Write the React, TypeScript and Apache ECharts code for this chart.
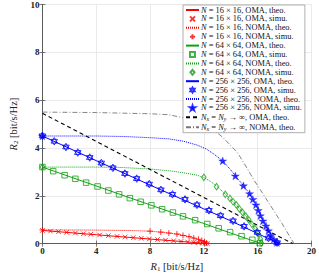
import React, { useEffect, useRef } from "react";
import * as echarts from "echarts";

// ---- tick values ----
const xTickMin = 0;
const xTickMax = 20;
const xTickStep = 4;
const yTickMin = 0;
const yTickMax = 10;
const yTickStep = 2;

// ---- series names ----
const seriesNames = [
  "N = 16 × 16, OMA, theo.",
  "N = 16 × 16, OMA, simu.",
  "N = 16 × 16, NOMA, theo.",
  "N = 16 × 16, NOMA, simu.",
  "N = 64 × 64, OMA, theo.",
  "N = 64 × 64, OMA, simu.",
  "N = 64 × 64, NOMA, theo.",
  "N = 64 × 64, NOMA, simu.",
  "N = 256 × 256, OMA, theo.",
  "N = 256 × 256, OMA, simu.",
  "N = 256 × 256, NOMA, theo.",
  "N = 256 × 256, NOMA, simu.",
  "Nx = Ny → ∞, OMA, theo.",
  "Nx = Ny → ∞, NOMA, theo.",
];

// ---- data: [R1, R2] ----
const red16OmaTheo = [[0, 0.55], [4, 0.37], [8, 0.19], [12.35, 0]];
const red16OmaSimu = [
  [0, 0.55], [0.6, 0.523], [1.2, 0.497], [1.8, 0.47], [2.45, 0.441], [3.05, 0.414],
  [3.6, 0.39], [4.25, 0.361], [4.9, 0.332], [5.55, 0.303], [6.15, 0.276], [6.75, 0.249],
  [7.35, 0.223], [7.95, 0.196], [8.55, 0.169], [9.15, 0.143], [9.75, 0.116], [10.3, 0.091],
  [10.8, 0.069], [11.25, 0.049], [11.6, 0.033], [11.9, 0.02], [12.1, 0.011], [12.25, 0.004],
];
const red16NomaTheo = [
  [0, 0.57], [2, 0.57], [4, 0.565], [6, 0.55], [7, 0.54], [8, 0.52], [9, 0.47],
  [10, 0.4], [10.9, 0.29], [11.6, 0.18], [12.0, 0.09], [12.25, 0],
];
const red16NomaSimu = [
  [0, 0.57], [8.0, 0.52], [8.8, 0.48], [9.4, 0.44], [10.0, 0.4], [10.45, 0.34],
  [10.9, 0.29], [11.25, 0.23], [11.6, 0.18], [11.85, 0.13], [12.05, 0.08], [12.2, 0.02],
];

const green64OmaTheo = [[0, 3.2], [4, 2.41], [8, 1.62], [12, 0.84], [14, 0.44], [16.25, 0]];
const green64OmaSimu = [
  [0, 3.2], [0.8, 3.03], [1.65, 2.86], [2.45, 2.71], [3.25, 2.55], [4.1, 2.39], [4.9, 2.22],
  [5.7, 2.06], [6.5, 1.9], [7.3, 1.75], [8.1, 1.6], [8.9, 1.44], [9.7, 1.3], [10.45, 1.14],
  [11.35, 0.98], [12.25, 0.82], [13.1, 0.64], [13.95, 0.48], [14.8, 0.31], [15.6, 0.16], [16.15, 0.02],
];
const green64NomaTheo = [
  [0, 3.2], [4, 3.2], [6, 3.18], [8, 3.12], [9.5, 3.04], [10.5, 2.96], [11.5, 2.86],
  [12, 2.76], [12.5, 2.6], [13, 2.38], [13.5, 2.12], [14, 1.84], [14.5, 1.55],
  [15, 1.25], [15.5, 0.88], [16, 0.42], [16.3, 0],
];
const green64NomaSimu = [
  [0, 3.2], [12.0, 2.77], [12.94, 2.38], [13.59, 2.06], [13.94, 1.89], [14.17, 1.75],
  [14.41, 1.62], [14.64, 1.45], [14.87, 1.31], [15.11, 1.15], [15.34, 0.99], [15.57, 0.81],
  [15.8, 0.63], [16.03, 0.42], [16.2, 0.2], [16.27, 0.02],
];

const blue256OmaTheo = [[0, 4.5], [4, 3.47], [8, 2.45], [12, 1.45], [14, 0.95], [16, 0.42], [17.6, 0]];
const blue256OmaSimu = [
  [0, 4.51], [0.88, 4.28], [1.75, 4.04], [2.63, 3.81], [3.52, 3.6], [4.38, 3.37], [5.24, 3.17],
  [6.13, 2.93], [7.01, 2.72], [7.94, 2.49], [8.81, 2.25], [9.67, 2.06], [10.6, 1.85],
  [11.49, 1.62], [12.38, 1.39], [13.24, 1.17], [14.17, 0.95], [14.99, 0.72], [15.97, 0.47],
  [16.8, 0.23], [17.44, 0.04],
];
const blue256NomaTheo = [
  [0, 4.5], [4, 4.5], [6, 4.48], [8, 4.43], [9.4, 4.38], [10.5, 4.28], [11.5, 4.12],
  [12.2, 3.95], [12.8, 3.72], [13.4, 3.46], [14.0, 3.08], [14.4, 2.8], [14.94, 2.42],
  [15.4, 2.09], [16.0, 1.45], [16.4, 0.95], [16.8, 0.54], [17.2, 0.18], [17.6, 0],
];
const blue256NomaSimu = [
  [0, 4.5], [13.4, 3.46], [14.34, 2.83], [14.94, 2.42], [15.4, 2.09], [15.64, 1.85],
  [15.87, 1.62], [16.04, 1.39], [16.2, 1.17], [16.39, 0.95], [16.62, 0.74], [16.8, 0.54],
  [16.97, 0.34], [17.2, 0.18], [17.43, 0.04],
];

const infOmaTheo = [[0, 5.45], [9.3, 2.72], [18.6, 0]];
const infNomaTheo = [
  [0, 5.5], [4, 5.48], [8, 5.43], [9.4, 5.39], [11, 5.2], [12.5, 4.85], [13.4, 4.45],
  [14.5, 3.8], [15.0, 3.35], [15.7, 2.68], [16.85, 1.68], [17.8, 0.85], [18.7, 0],
];

// ---- styling ----
const RED = "#ff0000";
const GREEN = "#13a013";
const BLUE = "#0000ff";
const SERIF = "Liberation Serif";

const SYM_X = "path://M0,0L10,10M10,0L0,10";
const SYM_PLUS = "path://M5,0L5,10M0,5L10,5";
const SYM_SQUARE = "path://M0,0L10,0L10,10L0,10Z";
const SYM_DIAMOND = "path://M5,0L10,6L5,12L0,6Z";
const SYM_HEX = "path://M0,-10L8.66,5L-8.66,5ZM0,10L8.66,-5L-8.66,-5Z";
const SYM_PENTA =
  "path://M0,-10L2.245,-3.09L9.51,-3.09L3.633,1.18L5.88,8.09L0,3.82L-5.88,8.09L-3.633,1.18L-9.51,-3.09L-2.245,-3.09Z";

function lineSeries(name: string, data: number[][], color: string, type: any, width = 1) {
  return {
    name,
    type: "line",
    data,
    symbol: "none",
    showSymbol: false,
    smooth: false,
    lineStyle: { color, width, type },
    itemStyle: { color },
    z: 2,
  };
}

function scatterSeries(name: string, data: number[][], color: string, symbol: string, size: number | number[], filled = false) {
  return {
    name,
    type: "scatter",
    data,
    symbol,
    symbolSize: size,
    symbolKeepAspect: true,
    itemStyle: {
      color: filled ? color : "rgba(0,0,0,0)",
      borderColor: color,
      borderWidth: filled ? 0.4 : 1,
    },
    z: 3,
  };
}

function legendFormatter(name: string) {
  if (name.startsWith("Nx")) {
    const rest = name.replace("Nx = Ny", "");
    return "{i|N}{s|x}{t| = }{i|N}{s|y}{t|" + rest + "}";
  }
  return "{i|N}{t|" + name.slice(1) + "}";
}

const isTheo = (n: string) => n.endsWith("theo.");

export default function App() {
  const ref = useRef<HTMLDivElement>(null);
  useEffect(() => {
    if (!ref.current) return;
    const chart = echarts.init(ref.current, undefined, { renderer: "svg" });
    const axisColor = "#555";
    const gridColor = "#e4e4e4";
    const tickLabel = { fontFamily: SERIF, fontSize: 9, fontWeight: "bold", color: "#222" };
    const nameRich = {
      i: { fontFamily: SERIF, fontStyle: "italic", fontSize: 10.5, color: "#222" },
      s: { fontFamily: SERIF, fontSize: 7, color: "#222", padding: [5, 0, 0, 0] },
      t: { fontFamily: SERIF, fontSize: 10.5, color: "#222" },
    };
    const option: any = {
      animation: false,
      backgroundColor: "#fff",
      grid: { left: 25.7, right: 7.3, top: 4, bottom: 25.3, containLabel: false },
      xAxis: [
        {
          type: "value",
          min: xTickMin,
          max: xTickMax,
          interval: xTickStep,
          name: "{i|R}{s|1}{t| [bit/s/Hz]}",
          nameLocation: "middle",
          nameGap: 13,
          nameTextStyle: { rich: nameRich },
          axisLine: { show: true, lineStyle: { color: axisColor, width: 0.8 } },
          axisTick: { show: true, inside: true, length: 3, lineStyle: { color: axisColor, width: 0.8 } },
          axisLabel: { ...tickLabel, margin: 3 },
          splitLine: { show: true, lineStyle: { color: gridColor, width: 0.8 } },
        },
        {
          type: "value",
          position: "top",
          min: xTickMin,
          max: xTickMax,
          interval: xTickStep,
          axisLine: { show: true, lineStyle: { color: axisColor, width: 0.8 } },
          axisTick: { show: true, inside: true, length: 3, lineStyle: { color: axisColor, width: 0.8 } },
          axisLabel: { show: false },
          splitLine: { show: false },
        },
      ],
      yAxis: [
        {
          type: "value",
          min: yTickMin,
          max: yTickMax,
          interval: yTickStep,
          name: "{i|R}{s|2}{t| [bit/s/Hz]}",
          nameLocation: "middle",
          nameRotate: 90,
          nameGap: 13,
          nameTextStyle: { rich: nameRich },
          axisLine: { show: true, lineStyle: { color: axisColor, width: 0.8 } },
          axisTick: { show: true, inside: true, length: 3, lineStyle: { color: axisColor, width: 0.8 } },
          axisLabel: { ...tickLabel, margin: 3 },
          splitLine: { show: true, lineStyle: { color: gridColor, width: 0.8 } },
        },
        {
          type: "value",
          position: "right",
          min: yTickMin,
          max: yTickMax,
          interval: yTickStep,
          axisLine: { show: true, lineStyle: { color: axisColor, width: 0.8 } },
          axisTick: { show: true, inside: true, length: 3, lineStyle: { color: axisColor, width: 0.8 } },
          axisLabel: { show: false },
          splitLine: { show: false },
        },
      ],
      legend: {
        orient: "vertical",
        left: 183,
        top: 5,
        padding: [1, 3, 1, 2],
        itemWidth: 13,
        itemHeight: 5,
        itemGap: 0.9,
        backgroundColor: "#fff",
        borderColor: "#999",
        borderWidth: 0.8,
        borderRadius: 0,
        formatter: legendFormatter,
        textStyle: {
          fontFamily: SERIF,
          fontSize: 8.4,
          color: "#111",
          padding: [0, 0, 0, -3],
          rich: {
            i: { fontFamily: SERIF, fontStyle: "italic", fontSize: 8.4, color: "#111", lineHeight: 8.8 },
            s: { fontFamily: SERIF, fontStyle: "italic", fontSize: 6, color: "#111", lineHeight: 8.8, padding: [3, 0, 0, 0] },
            t: { fontFamily: SERIF, fontSize: 8.4, color: "#111", lineHeight: 8.8 },
          },
        },
        data: seriesNames.map((n) =>
          isTheo(n) ? { name: n, itemStyle: { opacity: 0 } } : { name: n }
        ),
      },
      series: [
        lineSeries(seriesNames[0], red16OmaTheo, RED, "solid"),
        scatterSeries(seriesNames[1], red16OmaSimu, RED, SYM_X, 4.5),
        lineSeries(seriesNames[2], red16NomaTheo, RED, [1, 1]),
        scatterSeries(seriesNames[3], red16NomaSimu, RED, SYM_PLUS, 6),
        lineSeries(seriesNames[4], green64OmaTheo, GREEN, "solid"),
        scatterSeries(seriesNames[5], green64OmaSimu, GREEN, SYM_SQUARE, 5.5),
        lineSeries(seriesNames[6], green64NomaTheo, GREEN, [1, 1]),
        scatterSeries(seriesNames[7], green64NomaSimu, GREEN, SYM_DIAMOND, [5.5, 6.5]),
        lineSeries(seriesNames[8], blue256OmaTheo, BLUE, "solid"),
        scatterSeries(seriesNames[9], blue256OmaSimu, BLUE, SYM_HEX, 7.5),
        lineSeries(seriesNames[10], blue256NomaTheo, BLUE, [1, 1]),
        scatterSeries(seriesNames[11], blue256NomaSimu, BLUE, SYM_PENTA, 8, true),
        lineSeries(seriesNames[12], infOmaTheo, "#000", [4, 3], 1.1),
        lineSeries(seriesNames[13], infNomaTheo, "#777", [5, 2, 1, 2], 0.9),
      ],
    };
    chart.setOption(option);
    return () => chart.dispose();
  }, []);
  return <div ref={ref} style={{ width: 319, height: 277, position: "absolute", left: 0, top: 0 }} />;
}
